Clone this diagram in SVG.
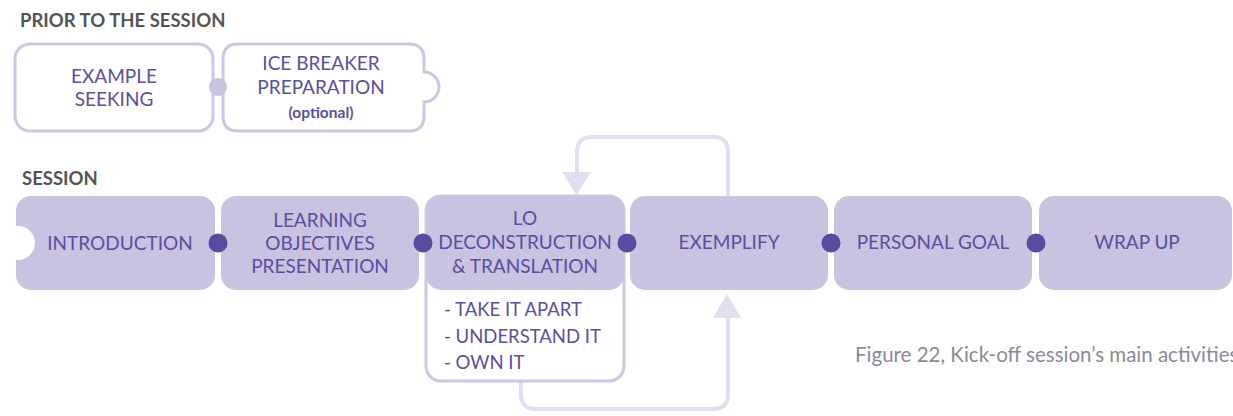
<svg xmlns="http://www.w3.org/2000/svg" width="1233" height="416" viewBox="0 0 1233 416">
<defs>
<style>
.hdr{font-family:Lato,"Noto Sans",sans-serif;font-weight:bold;font-size:18.5px;fill:#555555}
.t{font-family:Lato,"Noto Sans",sans-serif;font-size:19px;fill:#5a4fa0;text-anchor:middle}
.ts{font-family:Lato,"Noto Sans",sans-serif;font-weight:bold;font-size:15.5px;fill:#5a4fa0;text-anchor:middle}
.tl{font-family:Lato,"Noto Sans",sans-serif;font-size:18.5px;fill:#5a4fa0}
.ob{fill:#ffffff;stroke:#cdc6e4;stroke-width:3}
.fb{fill:#c9c2e1}
.dot{fill:#574ca0}
.loop{fill:none;stroke:#e2def0;stroke-width:4}
.ah{fill:#e2def0}
.cap{font-family:Lato,"Noto Sans",sans-serif;font-size:20.5px;fill:#8a8a9a}
</style>
</defs>
<text class="hdr" x="20" y="27">PRIOR TO THE SESSION</text>
<text class="hdr" x="22" y="185">SESSION</text>

<g id="connectors">
<path class="loop" d="M728 198 V152 Q728 137 713 137 H592 Q577 137 577 152 V176"/>
<polygon class="ah" points="562,172 591,172 576.5,195"/>
<path class="loop" d="M521 382 V394 Q521 409 536 409 H713 Q728 409 728 394 V316"/>
<polygon class="ah" points="713,318 741,318 727,294"/>
</g>

<g id="example-seeking">
<rect class="ob" x="15" y="44" width="198" height="87" rx="15"/>
<text class="t" x="114" y="83">EXAMPLE</text>
<text class="t" x="114" y="106">SEEKING</text>
</g>
<g id="ice-breaker">
<path class="ob" d="M238 44 H409 Q424 44 424 59 V72 A15 15 0 0 1 424 102 V116 Q424 131 409 131 H238 Q223 131 223 116 V59 Q223 44 238 44 Z"/>
<text class="t" x="321" y="70">ICE BREAKER</text>
<text class="t" x="321" y="94">PREPARATION</text>
<text class="ts" x="321" y="118">(optional)</text>
</g>
<circle cx="218" cy="87" r="9" fill="#c9c2e1"/>

<g id="introduction">
<rect class="fb" x="16" y="196" width="199" height="94" rx="15"/>
<circle cx="18" cy="243" r="17" fill="#ffffff"/>
<text class="t" x="120" y="250">INTRODUCTION</text>
</g>
<g id="learning-objectives">
<rect class="fb" x="221" y="196" width="198" height="94" rx="15"/>
<text class="t" x="320" y="227">LEARNING</text>
<text class="t" x="320" y="250">OBJECTIVES</text>
<text class="t" x="320" y="273">PRESENTATION</text>
</g>
<g id="lo-deconstruction">
<rect class="ob" x="426" y="196" width="198" height="185" rx="15"/>
<rect class="fb" x="426" y="196" width="198" height="94" rx="15"/>
<text class="t" x="525" y="225">LO</text>
<text class="t" x="525" y="249">DECONSTRUCTION</text>
<text class="t" x="525" y="273">&amp; TRANSLATION</text>
<text class="tl" x="444" y="316">- TAKE IT APART</text>
<text class="tl" x="444" y="343">- UNDERSTAND IT</text>
<text class="tl" x="444" y="369">- OWN IT</text>
</g>
<g id="exemplify">
<rect class="fb" x="630" y="196" width="198" height="94" rx="15"/>
<text class="t" x="729" y="249">EXEMPLIFY</text>
</g>
<g id="personal-goal">
<rect class="fb" x="834" y="196" width="198" height="94" rx="15"/>
<text class="t" x="933" y="249">PERSONAL GOAL</text>
</g>
<g id="wrap-up">
<rect class="fb" x="1039" y="196" width="193" height="94" rx="15"/>
<text class="t" x="1137" y="249">WRAP UP</text>
</g>
<g id="dots">
<circle class="dot" cx="218" cy="243" r="9.5"/>
<circle class="dot" cx="423" cy="243" r="9.5"/>
<circle class="dot" cx="627" cy="243" r="9.5"/>
<circle class="dot" cx="831" cy="243" r="9.5"/>
<circle class="dot" cx="1036" cy="243" r="9.5"/>
</g>
<text class="cap" x="855" y="362">Figure 22, Kick-off session’s main activities</text>
</svg>
